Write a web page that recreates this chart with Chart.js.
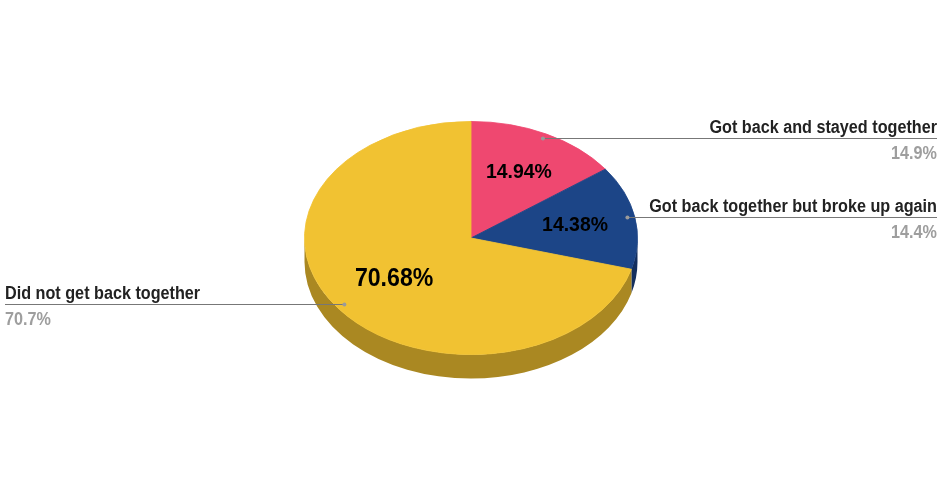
<!DOCTYPE html>
<html>
<head>
<meta charset="utf-8">
<script src="https://cdn.jsdelivr.net/npm/chart.js@4.4.1/dist/chart.umd.min.js"></script>
<style>
  html, body { margin: 0; padding: 0; background: #fff; }
  #wrap { width: 952px; height: 495px; }
</style>
</head>
<body>
<div id="wrap"><canvas id="pieChart" width="952" height="495"></canvas></div>
<script>
const categories = ['Got back and stayed together', 'Got back together but broke up again', 'Did not get back together'];
const shares = [14.94, 14.38, 70.68];
const sliceColors = ['#ef4870', '#1c4587', '#f1c232'];
const sideColors = ['#a8324f', '#142f5e', '#aa8822'];

const TILT = 0.70;
const DEPTH = 24;
const FONT = '"Liberation Sans", Arial, sans-serif';
const TEXT_SX = 0.925; // text in the original is slightly narrow

function drawText(ctx, text, x, y) {
    ctx.save();
    ctx.translate(x, y);
    ctx.scale(TEXT_SX, 1);
    ctx.fillText(text, 0, 0);
    ctx.restore();
}

const pie3d = {
    id: 'pie3d',
    beforeDatasetsDraw(chart) {
        const ctx = chart.ctx;
        const arcs = chart.getDatasetMeta(0).data;
        const cx = arcs[0].x;
        const cy = arcs[0].y;
        const r = arcs[0].outerRadius;
        const ry = r * TILT;

        // side wall, only the front half is visible
        arcs.forEach((arc, i) => {
            const from = Math.max(arc.startAngle, 0);
            const to = Math.min(arc.endAngle, Math.PI);
            if (to <= from) return;
            ctx.beginPath();
            ctx.ellipse(cx, cy, r, ry, 0, from, to);
            ctx.ellipse(cx, cy + DEPTH, r, ry, 0, to, from, true);
            ctx.closePath();
            ctx.fillStyle = sideColors[i];
            ctx.fill();
        });

        // squash the top face
        ctx.save();
        ctx.translate(0, cy);
        ctx.scale(1, TILT);
        ctx.translate(0, -cy);
    },
    afterDatasetsDraw(chart) {
        const ctx = chart.ctx;
        ctx.restore();

        const arcs = chart.getDatasetMeta(0).data;
        arcs.forEach((arc, i) => {
            const cx = arc.x;
            const cy = arc.y;
            const r = arc.outerRadius;
            const mid = (arc.startAngle + arc.endAngle) / 2;

            // value inside the slice
            const big = shares[i] > 50;
            ctx.font = 'bold ' + (big ? 25 : 21) + 'px ' + FONT;
            ctx.fillStyle = '#000';
            ctx.textAlign = 'center';
            ctx.textBaseline = 'middle';
            const k = big ? 0.58 : 0.635;
            drawText(ctx, shares[i].toFixed(2) + '%',
                cx + Math.cos(mid) * r * k,
                cy + Math.sin(mid) * r * k * TILT);

            // leader line with label
            const dx = cx + Math.cos(mid) * r * 0.955;
            const dy = Math.round(cy + Math.sin(mid) * r * 0.955 * TILT);
            const right = Math.cos(mid) > 0;
            const endX = right ? 937 : 5;

            ctx.strokeStyle = '#777';
            ctx.lineWidth = 1;
            ctx.beginPath();
            ctx.moveTo(dx, dy - 0.5);
            ctx.lineTo(endX, dy - 0.5);
            ctx.stroke();

            ctx.fillStyle = '#9a9a9a';
            ctx.beginPath();
            ctx.arc(dx, dy - 0.5, 2, 0, Math.PI * 2);
            ctx.fill();

            ctx.textAlign = right ? 'right' : 'left';
            ctx.textBaseline = 'alphabetic';
            ctx.font = 'bold 17.5px ' + FONT;
            ctx.fillStyle = '#222';
            drawText(ctx, categories[i], endX, dy - 6);
            ctx.fillStyle = '#9e9e9e';
            drawText(ctx, shares[i].toFixed(1) + '%', endX, dy + 20);
        });
    }
};

new Chart(document.getElementById('pieChart'), {
    type: 'pie',
    data: {
        labels: categories,
        datasets: [{
            data: shares,
            backgroundColor: sliceColors,
            borderColor: sliceColors,
            borderWidth: 1
        }]
    },
    options: {
        responsive: false,
        animation: false,
        layout: { padding: { left: 304, right: 314, top: 71, bottom: 90 } },
        plugins: {
            legend: { display: false },
            tooltip: { enabled: false }
        }
    },
    plugins: [pie3d]
});
</script>
</body>
</html>
